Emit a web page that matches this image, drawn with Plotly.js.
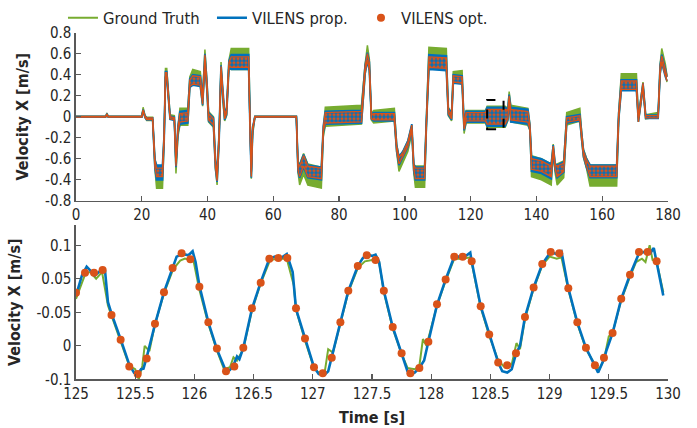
<!DOCTYPE html>
<html><head><meta charset="utf-8">
<script src="https://cdn.plot.ly/plotly-3.0.1.min.js"></script>
<style>html,body{margin:0;padding:0;background:#fff;}#plot{width:697px;height:428px;}</style>
</head><body><div id="plot"></div>
<script>
// ---------- top panel: band readings (time, band middle, band half-width) ----------
const tTop = [0,9.0,9.4,9.8,20.0,20.4,21.0,21.5,23.3,24.0,24.5,26.3,26.8,27.2,27.6,28.1,28.6,29.9,30.4,31.0,31.6,34.0,34.6,35.5,37.8,38.5,39.2,39.8,40.3,41.8,42.4,42.9,43.5,44.1,44.6,45.2,45.8,46.5,47.2,52.5,53.0,53.3,53.7,54.4,67.0,67.5,68.0,69.2,70.5,74.6,75.2,75.8,86.8,87.4,87.9,88.6,89.2,89.8,90.5,96.8,97.5,98.2,99.4,100.9,102.1,102.7,103.2,106.0,106.6,107.3,112.6,113.2,114.2,114.7,117.4,118.0,118.6,124.5,125.0,130.5,131.3,131.7,132.2,137.4,138.0,138.5,141.5,144.5,145.1,145.7,146.3,148.3,149.2,153.2,153.8,154.3,155.2,156.3,164.4,165.0,165.8,170.4,171.0,171.6,172.4,173.2,177.0,177.6,178.1,179.2,179.7];
const gtMidTop = [0,0,0.03,0,0,0.08,0,-0.02,-0.02,-0.45,-0.58,-0.58,-0.2,0.42,0.42,0.2,0,-0.01,-0.5,-0.15,0,0,0.33,0.38,0.36,0.15,0.58,0.3,0,-0.05,-0.45,-0.6,-0.2,0.48,0.2,0,0.05,0.5,0.55,0.55,-0.2,-0.55,-0.15,0,0,-0.48,-0.55,-0.45,-0.55,-0.58,-0.15,0,0.02,0.3,0.45,0.62,0.5,0,0,0.02,-0.3,-0.45,-0.38,-0.28,-0.12,-0.5,-0.57,-0.57,0,0.56,0.55,0.05,0,0.38,0.38,-0.12,0,0,0,0,0.02,0.2,0.03,0,-0.1,-0.47,-0.5,-0.55,-0.3,-0.5,-0.55,-0.5,-0.02,0.02,-0.2,-0.35,-0.44,-0.56,-0.56,0,0.34,0.34,-0.02,0.1,0.3,0,0.02,0.45,0.6,0.45,0.36];
const propMidTop = [0,0,0.02,0,0,0.06,0,-0.02,-0.02,-0.45,-0.53,-0.53,-0.2,0.40,0.40,0.2,-0.01,-0.02,-0.45,-0.12,-0.01,0,0.32,0.35,0.34,0.15,0.55,0.3,0,-0.05,-0.45,-0.58,-0.2,0.46,0.2,0,0.05,0.5,0.52,0.52,-0.2,-0.55,-0.12,0,0,-0.48,-0.52,-0.42,-0.52,-0.54,-0.12,-0.01,0,0.3,0.45,0.57,0.48,0,0,0,-0.3,-0.42,-0.36,-0.26,-0.1,-0.48,-0.54,-0.54,0,0.52,0.51,0.05,0,0.36,0.35,-0.1,0,0,0,0,0.02,0.18,0.02,0,-0.1,-0.45,-0.47,-0.52,-0.3,-0.48,-0.52,-0.48,-0.03,-0.01,-0.2,-0.35,-0.44,-0.52,-0.52,0,0.3,0.3,-0.03,0.1,0.3,0,0,0.45,0.55,0.42,0.36];
const optMidTop = propMidTop;
const gtHalfTop = [.004,.004,.006,.004,.004,.01,.01,.015,.015,.05,.1,.1,.04,.04,.04,.03,.02,.02,.04,.04,.08,.08,.05,.07,.07,.05,.06,.05,.05,.05,.05,.05,.04,.04,.04,.04,.04,.04,.1,.1,.04,.04,.03,.005,.005,.05,.1,.1,.1,.1,.04,.09,.09,.05,.05,.06,.05,.03,.06,.06,.04,.07,.05,.05,.04,.04,.1,.1,.04,.1,.1,.04,.04,.05,.06,.04,.06,.06,.1,.1,.06,.04,.08,.08,.03,.1,.1,.1,.04,.04,.1,.08,.06,.06,.04,.04,.05,.1,.1,.04,.07,.07,.03,.03,.03,.02,.02,.05,.05,.05,.03];
const propHalfTop = [.004,.004,.004,.004,.004,.008,.008,.01,.01,.04,.07,.07,.03,.03,.03,.02,.015,.015,.03,.03,.06,.06,.04,.05,.05,.04,.05,.04,.04,.04,.04,.04,.03,.03,.03,.03,.03,.03,.07,.07,.03,.03,.02,.004,.004,.04,.06,.06,.06,.06,.03,.06,.06,.04,.04,.04,.04,.02,.04,.04,.03,.04,.03,.03,.03,.03,.06,.06,.03,.07,.07,.03,.03,.04,.04,.03,.05,.05,.09,.09,.05,.03,.07,.07,.02,.07,.07,.07,.03,.03,.06,.05,.03,.03,.03,.03,.04,.06,.06,.03,.05,.05,.02,.02,.02,.015,.015,.04,.04,.04,.02];
const optHalfTop = [.004,.004,.004,.004,.004,.006,.006,.008,.008,.03,.04,.04,.02,.02,.02,.02,.01,.01,.02,.02,.04,.04,.03,.04,.04,.03,.04,.03,.03,.03,.03,.03,.02,.02,.02,.02,.02,.02,.05,.05,.02,.02,.015,.004,.004,.03,.05,.05,.05,.05,.02,.05,.05,.03,.03,.03,.03,.02,.03,.03,.02,.03,.02,.02,.02,.02,.05,.05,.02,.05,.05,.02,.02,.03,.03,.02,.04,.04,.07,.07,.04,.02,.05,.05,.02,.05,.05,.05,.02,.02,.05,.04,.02,.02,.02,.02,.03,.05,.05,.02,.04,.04,.02,.02,.02,.01,.01,.03,.03,.03,.02];

// ---------- bottom panel: 125-130 s ----------
const tProp = [125.00,125.05,125.09,125.16,125.22,125.245,125.27,125.30,125.377,125.45,125.49,125.53,125.55,125.57,125.60,125.667,125.743,125.816,125.85,125.90,125.95,125.985,126.01,126.042,126.118,126.19,126.267,126.30,126.33,126.36,126.38,126.413,126.486,126.56,126.633,126.68,126.74,126.78,126.83,126.858,126.934,127.01,127.05,127.10,127.13,127.16,127.233,127.30,127.38,127.42,127.456,127.50,127.53,127.56,127.60,127.675,127.75,127.80,127.824,127.86,127.90,127.94,127.976,128.049,128.122,128.195,128.266,128.30,128.33,128.342,128.418,128.49,128.566,128.60,128.642,128.68,128.716,128.75,128.792,128.865,128.938,129.009,129.06,129.10,129.158,129.234,129.307,129.383,129.41,129.459,129.48,129.532,129.605,129.679,129.755,129.80,129.85,129.88,129.904,129.96];
const vProp = [0.025,0.055,0.068,0.055,0.064,0.062,0.015,-0.002,-0.040,-0.078,-0.090,-0.090,-0.085,-0.084,-0.065,-0.018,0.030,0.067,0.083,0.087,0.085,0.091,0.075,0.040,-0.015,-0.055,-0.088,-0.086,-0.079,-0.066,-0.070,-0.053,0.005,0.045,0.080,0.083,0.082,0.087,0.060,0.005,-0.040,-0.082,-0.092,-0.093,-0.088,-0.068,-0.015,0.032,0.069,0.080,0.087,0.084,0.086,0.075,0.032,-0.022,-0.061,-0.088,-0.093,-0.090,-0.083,-0.072,-0.044,0.011,0.049,0.083,0.083,0.085,0.089,0.076,0.009,-0.033,-0.075,-0.088,-0.090,-0.085,-0.062,-0.050,-0.007,0.037,0.072,0.090,0.087,0.091,0.036,-0.015,-0.053,-0.080,-0.090,-0.070,-0.057,-0.031,0.020,0.056,0.088,0.090,0.088,0.096,0.075,0.025];
const tGT = [125.00,125.08,125.12,125.17,125.22,125.27,125.30,125.40,125.45,125.50,125.53,125.56,125.58,125.62,125.667,125.743,125.82,125.88,125.92,125.96,125.99,126.04,126.118,126.19,126.25,126.30,126.33,126.36,126.413,126.486,126.56,126.64,126.70,126.78,126.84,126.858,126.934,127.01,127.05,127.10,127.13,127.17,127.233,127.30,127.38,127.44,127.50,127.56,127.60,127.675,127.75,127.80,127.86,127.90,127.93,127.96,128.049,128.122,128.195,128.266,128.33,128.342,128.418,128.49,128.566,128.62,128.68,128.72,128.75,128.792,128.865,128.938,129.00,129.06,129.10,129.158,129.234,129.307,129.383,129.42,129.46,129.50,129.53,129.605,129.679,129.73,129.78,129.81,129.845,129.87,129.904,129.96];
const vGT = [0.020,0.058,0.060,0.050,0.060,0.010,-0.005,-0.055,-0.080,-0.085,-0.100,-0.080,-0.050,-0.058,-0.018,0.028,0.064,0.077,0.080,0.078,0.079,0.035,-0.018,-0.057,-0.085,-0.082,-0.067,-0.072,-0.055,0.003,0.043,0.078,0.080,0.080,0.040,0.004,-0.042,-0.083,-0.090,-0.090,-0.055,-0.060,-0.017,0.030,0.066,0.076,0.078,0.075,0.030,-0.024,-0.062,-0.083,-0.085,-0.080,-0.040,-0.050,0.010,0.047,0.080,0.080,0.082,0.074,0.007,-0.035,-0.072,-0.082,-0.078,-0.046,-0.055,-0.010,0.035,0.070,0.083,0.080,0.082,0.034,-0.017,-0.055,-0.078,-0.085,-0.070,-0.036,-0.032,0.018,0.053,0.075,0.080,0.075,0.100,0.078,0.076,0.030];
const tOpt = [125.000,125.076,125.152,125.225,125.300,125.377,125.450,125.521,125.597,125.667,125.743,125.816,125.892,125.966,126.042,126.118,126.190,126.267,126.337,126.413,126.486,126.560,126.633,126.709,126.785,126.858,126.934,127.010,127.084,127.160,127.233,127.300,127.380,127.456,127.530,127.600,127.675,127.750,127.824,127.900,127.976,128.049,128.122,128.195,128.266,128.342,128.418,128.490,128.566,128.642,128.716,128.792,128.865,128.938,129.009,129.082,129.158,129.234,129.307,129.383,129.459,129.532,129.605,129.679,129.755,129.828,129.904];
const vOpt = [0.029,0.059,0.059,0.063,-0.004,-0.041,-0.081,-0.092,-0.069,-0.017,0.030,0.066,0.088,0.079,0.038,-0.015,-0.054,-0.088,-0.081,-0.053,0.006,0.044,0.080,0.081,0.081,0.006,-0.039,-0.082,-0.091,-0.068,-0.015,0.032,0.069,0.085,0.078,0.032,-0.022,-0.061,-0.091,-0.083,-0.044,0.012,0.049,0.083,0.083,0.076,0.009,-0.033,-0.075,-0.079,-0.061,-0.007,0.037,0.072,0.090,0.088,0.036,-0.015,-0.053,-0.079,-0.068,-0.031,0.020,0.056,0.090,0.090,0.076];

// ---------- labels ----------
const seriesNames = ['Ground Truth','VILENS prop.','VILENS opt.'];
const topYTickVals = [-0.8,-0.6,-0.4,-0.2,0,0.2,0.4,0.6,0.8];
const topYTickText = ['-0.8','-0.4','-0.6','-0.2','0','0.2','0.4','0.6','0.8'];
const topXTickVals = [0,20,40,60,80,100,120,140,160,180];
const botYTickVals = [-0.1,-0.05,0,0.05,0.1];
const botYTickText = ['-0.1','0','-0.05','0.05','0.1'];
const botXTickVals = [125,125.5,126,126.5,127,127.5,128,128.5,129,129.5,130];
const zoomBoxX = [125,130];
const zoomBoxY = [-0.12,0.16];

const GREEN='#77AC30', BLUE='#0072BD', ORANGE='#D95319';
const FONT = '"DejaVu Sans Condensed","Liberation Sans Narrow","DejaVu Sans",sans-serif';

function band(mid, half, sign){ return mid.map((m,i)=> m + sign*half[i]); }

const traces = [];
function addBand(mid, half, color, width, extra){
  traces.push({x:tTop, y:band(mid,half,-1), xaxis:'x', yaxis:'y', mode:'lines', line:{color:color,width:width}, showlegend:false, hoverinfo:'skip'});
  traces.push(Object.assign({x:tTop, y:band(mid,half,1), xaxis:'x', yaxis:'y', mode:'lines', line:{color:color,width:width}, fill:'tonexty', fillcolor:color, showlegend:false, hoverinfo:'skip'}, extra||{}));
}
addBand(gtMidTop, gtHalfTop, GREEN, 1.5);
addBand(propMidTop, propHalfTop, BLUE, 1.8);
addBand(optMidTop, optHalfTop, ORANGE, 1.3, {fillcolor:'rgba(0,0,0,0)', fillpattern:{shape:'.', fgcolor:ORANGE, bgcolor:'rgba(0,0,0,0)', size:4, solidity:0.5}});

traces.push({x:tGT, y:vGT, xaxis:'x2', yaxis:'y2', mode:'lines', name:seriesNames[0], line:{color:GREEN,width:2}});
traces.push({x:tProp, y:vProp, xaxis:'x2', yaxis:'y2', mode:'lines', name:seriesNames[1], line:{color:BLUE,width:2.6}});
traces.push({x:tOpt, y:vOpt, xaxis:'x2', yaxis:'y2', mode:'markers', name:seriesNames[2], marker:{color:ORANGE,size:8}});

const TXT = '#262626';
const axisCommon = {showline:true, linecolor:'#595959', linewidth:1.6, ticks:'inside', ticklen:5, tickwidth:1.3, tickcolor:'#595959', showgrid:false, zeroline:false, mirror:false, tickfont:{family:FONT,size:15,color:TXT}};
const titleFont = {family:FONT,size:16,color:TXT,weight:'bold'};

const layout = {
  width:697, height:428,
  margin:{l:76, r:29, t:32, b:48, pad:0, autoexpand:false},
  paper_bgcolor:'#fff', plot_bgcolor:'#fff',
  font:{family:FONT, size:15, color:TXT},
  showlegend:true,
  legend:{orientation:'h', x:-0.022, xanchor:'left', y:1.04, yanchor:'middle', font:{family:FONT,size:16.5,color:TXT}, itemwidth:30, entrywidth:104, entrywidthmode:'pixels', bgcolor:'rgba(0,0,0,0)', traceorder:'normal'},
  xaxis:Object.assign({}, axisCommon, {domain:[0,1], range:[0,180], anchor:'y', tickvals:topXTickVals}),
  yaxis:Object.assign({}, axisCommon, {domain:[0.515,0.998], range:[-0.8,0.8], anchor:'x', tickvals:topYTickVals, ticktext:topYTickText,
      title:{text:'Velocity X [m/s]', font:titleFont, standoff:12}}),
  xaxis2:Object.assign({}, axisCommon, {domain:[0,1], range:[125,130], anchor:'y2', tickvals:botXTickVals,
      title:{text:'Time [s]', font:titleFont, standoff:10}}),
  yaxis2:Object.assign({}, axisCommon, {domain:[0.002,0.445], range:[-0.1,0.13], anchor:'x2', tickvals:botYTickVals, ticktext:botYTickText,
      title:{text:'Velocity X [m/s]', font:titleFont, standoff:12}}),
  shapes:[{type:'rect', xref:'x', yref:'y', x0:zoomBoxX[0], x1:zoomBoxX[1], y0:zoomBoxY[0], y1:zoomBoxY[1], line:{color:'#000',width:2,dash:'dash'}, fillcolor:'rgba(0,0,0,0)'}]
};
Plotly.newPlot('plot', traces, layout, {staticPlot:true, displayModeBar:false});
</script></body></html>
